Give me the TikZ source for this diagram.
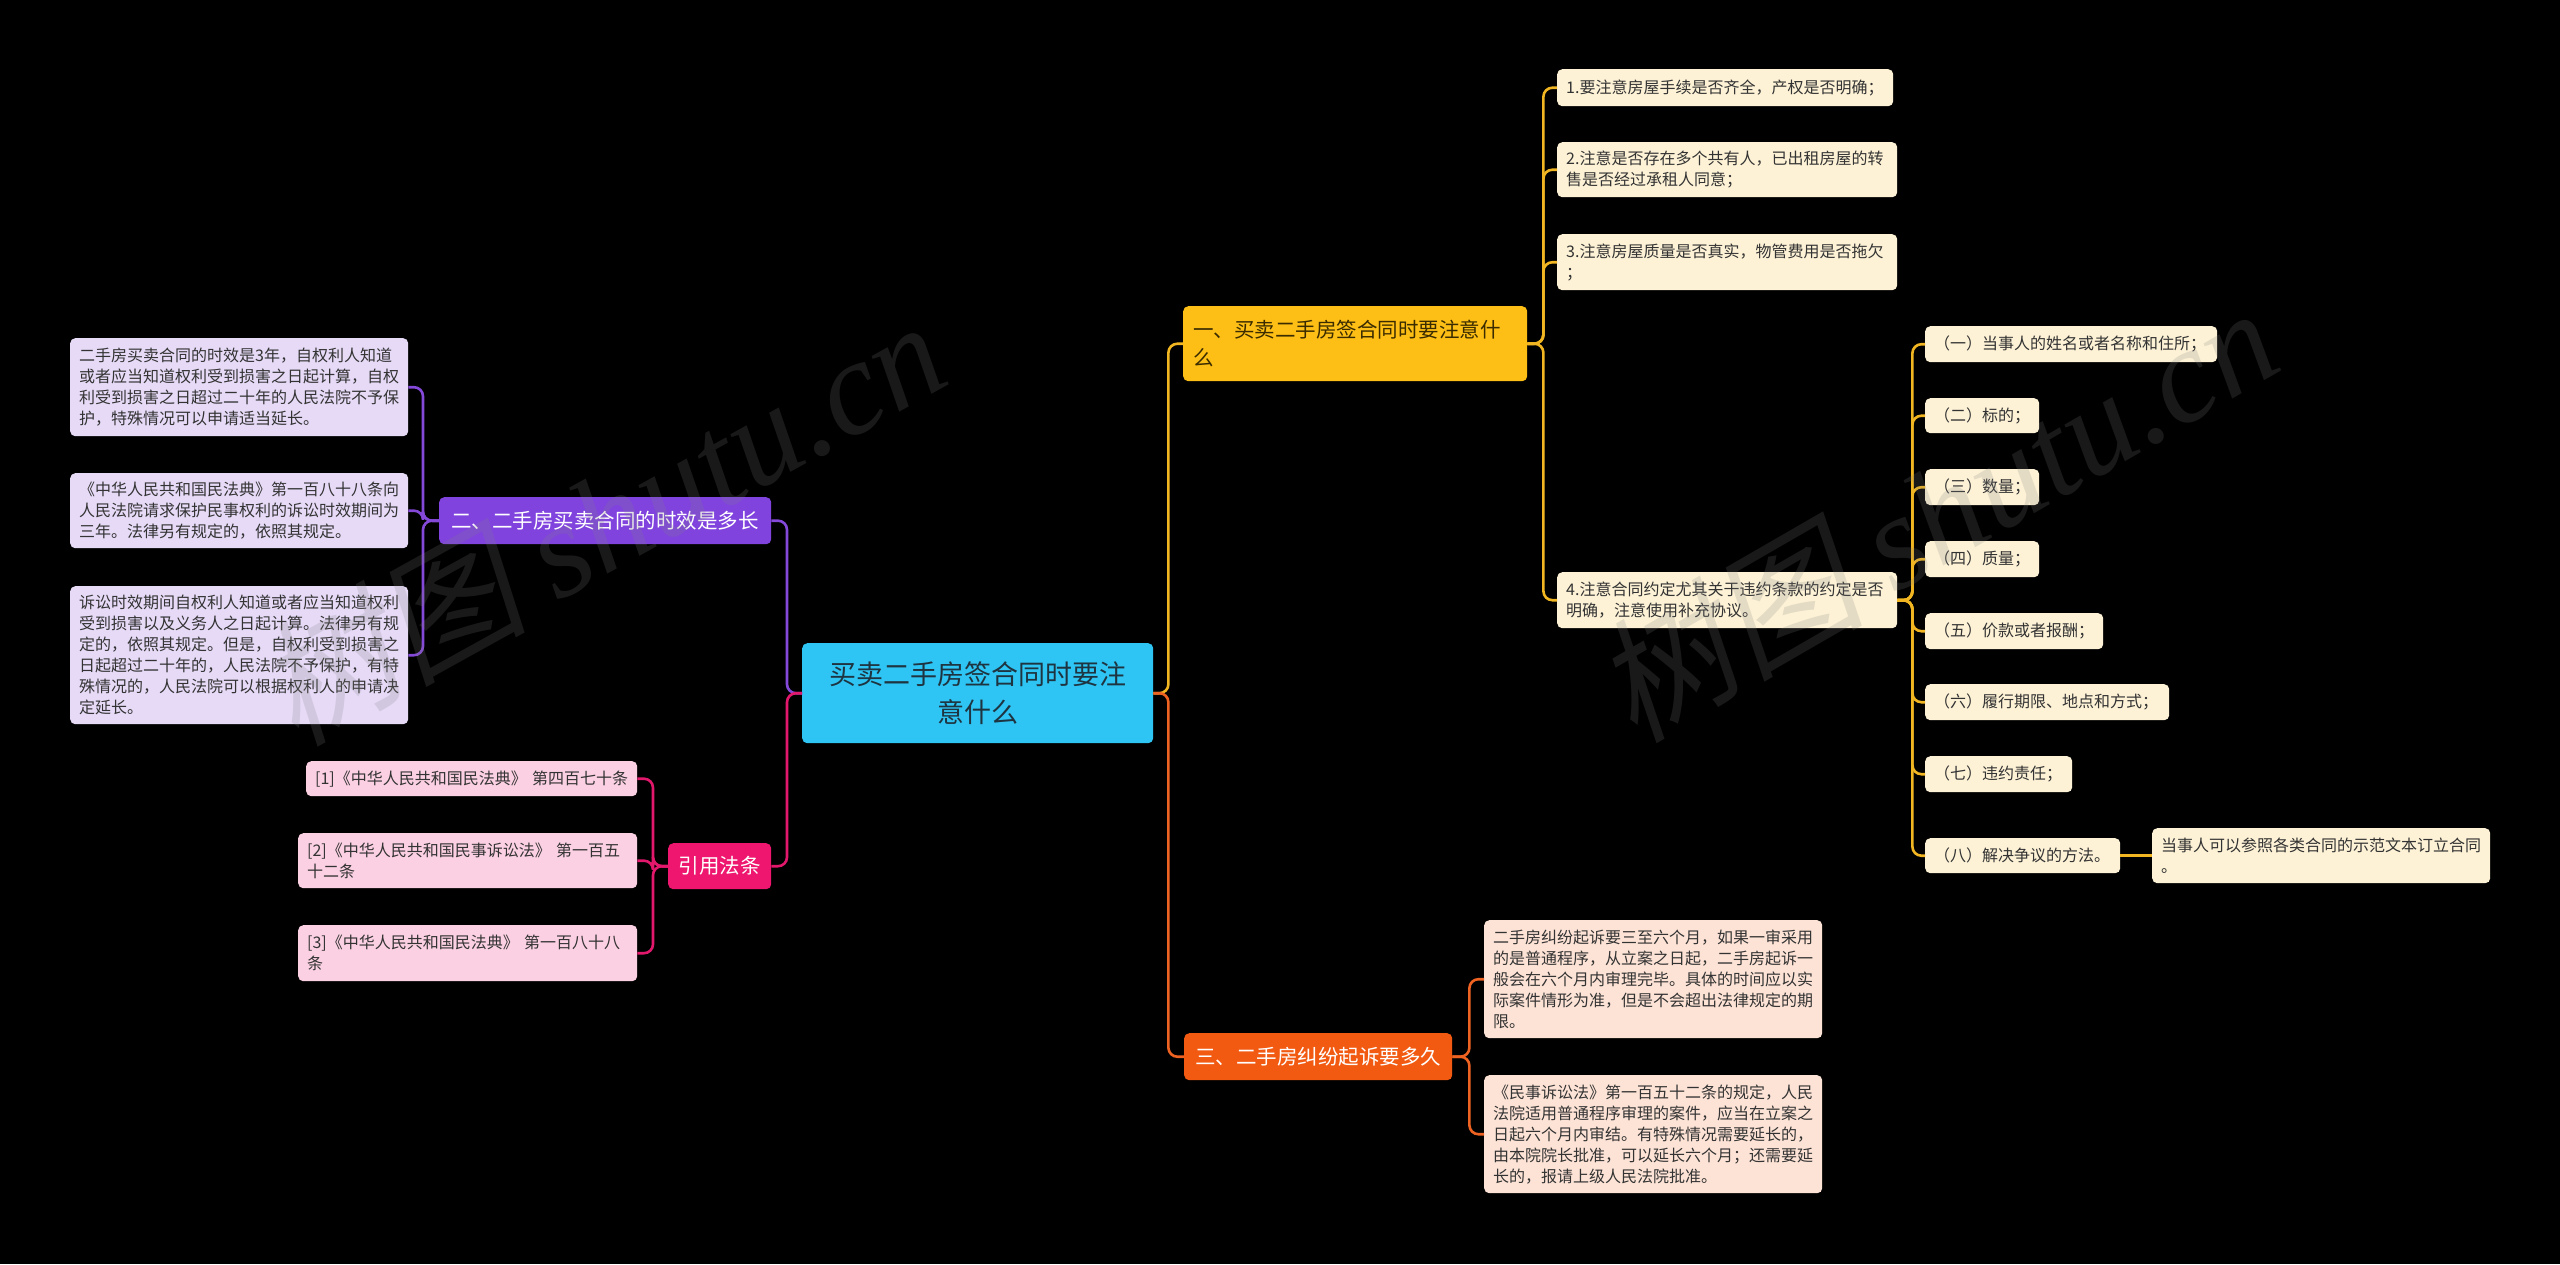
\documentclass[tikz,border=0pt]{standalone}
\usepackage{fontspec}
\setmainfont{Noto Sans CJK SC}
\newfontfamily\wmcjk[FakeSlant=0.2]{Noto Sans CJK SC}
\newfontfamily\wmserif{Liberation Serif}
\definecolor{bgc}{HTML}{000000}
\definecolor{rootc}{HTML}{2EC4F3}
\definecolor{roott}{HTML}{1E3440}
\definecolor{yelc}{HTML}{FDBE15}
\definecolor{yelt}{HTML}{3A2C00}
\definecolor{yell}{HTML}{F2B622}
\definecolor{creamc}{HTML}{FDF2D6}
\definecolor{purc}{HTML}{8043DE}
\definecolor{purl}{HTML}{8549D9}
\definecolor{lavc}{HTML}{E6DAF7}
\definecolor{orac}{HTML}{F25A12}
\definecolor{oral}{HTML}{EE6222}
\definecolor{peac}{HTML}{FDE3D6}
\definecolor{pinc}{HTML}{EE166E}
\definecolor{pinl}{HTML}{E2186C}
\definecolor{pinkc}{HTML}{FBD0E2}
\definecolor{leaft}{HTML}{333333}
\begin{document}
\begin{tikzpicture}[x=1pt,y=-1pt,
  box/.style={rounded corners=5pt, anchor=north west, inner ysep=0pt, inner xsep=9pt, align=left},
  leaffont/.style={font=\fontsize{16}{21}\selectfont, text=leaft},
  yleaf/.style={box, leaffont, fill=creamc},
  pleaf/.style={box, leaffont, fill=lavc},
  oleaf/.style={box, leaffont, fill=peac},
  kleaf/.style={box, leaffont, fill=pinkc},
  brfont/.style={font=\fontsize{20.5}{28}\selectfont},
  conn/.style={line width=2.6pt, rounded corners=9pt},
  wm/.style={text=gray, opacity=0.2, font=\fontsize{135}{135}\selectfont}
]
\fill[bgc] (0,0) rectangle (2560,1264);
\useasboundingbox (0,0) rectangle (2560,1264);

% root
\node[box, align=center, fill=rootc, text=roott, font=\fontsize{27}{38}\selectfont,
  minimum width=351pt, minimum height=100pt, text width=333pt] (root) at (802,643)
  {买卖二手房签合同时要注\\意什么};

% branches
\node[box, brfont, fill=yelc, text=yelt, inner xsep=10pt, text width=324pt, minimum height=75pt] (b1) at (1183,306)
  {一、买卖二手房签合同时要注意什\\么};
\node[box, brfont, align=center, fill=purc, text=white, text width=314pt, minimum height=47pt] (b2) at (439,497)
  {二、二手房买卖合同的时效是多长};
\node[box, brfont, align=center, fill=orac, text=white, text width=250pt, minimum height=47pt] (b3) at (1184,1033)
  {三、二手房纠纷起诉要多久};
\node[box, brfont, align=center, fill=pinc, text=white, text width=85pt, minimum height=46pt] (b4) at (668,843)
  {引用法条};

% branch 1 leaves
\node[yleaf, text width=318pt, minimum height=37pt] (l11) at (1557,69)
  {1.要注意房屋手续是否齐全，产权是否明确；};
\node[yleaf, text width=322pt, minimum height=55pt] (l12) at (1557,142)
  {2.注意是否存在多个共有人，已出租房屋的转\\售是否经过承租人同意；};
\node[yleaf, text width=322pt, minimum height=56pt] (l13) at (1557,234)
  {3.注意房屋质量是否真实，物管费用是否拖欠\\；};
\node[yleaf, text width=322pt, minimum height=56pt] (l14) at (1557,572)
  {4.注意合同约定尤其关于违约条款的约定是否\\明确，注意使用补充协议。};

\node[yleaf, text width=274pt, minimum height=36pt] (c1) at (1925,326) {（一）当事人的姓名或者名称和住所；};
\node[yleaf, text width=96pt, minimum height=35pt] (c2) at (1925,398) {（二）标的；};
\node[yleaf, text width=96pt, minimum height=36pt] (c3) at (1925,469) {（三）数量；};
\node[yleaf, text width=96pt, minimum height=36pt] (c4) at (1925,541) {（四）质量；};
\node[yleaf, text width=160pt, minimum height=36pt] (c5) at (1925,613) {（五）价款或者报酬；};
\node[yleaf, text width=226pt, minimum height=36pt] (c6) at (1925,684) {（六）履行期限、地点和方式；};
\node[yleaf, text width=129pt, minimum height=36pt] (c7) at (1925,756) {（七）违约责任；};
\node[yleaf, text width=177pt, minimum height=35pt] (c8) at (1925,838) {（八）解决争议的方法。};
\node[yleaf, text width=320pt, minimum height=55pt] (c81) at (2152,828)
  {当事人可以参照各类合同的示范文本订立合同\\。};

% branch 2 leaves
\node[pleaf, text width=320pt, minimum height=98pt] (l21) at (70,338)
  {二手房买卖合同的时效是3年，自权利人知道\\或者应当知道权利受到损害之日起计算，自权\\利受到损害之日超过二十年的人民法院不予保\\护，特殊情况可以申请适当延长。};
\node[pleaf, text width=320pt, minimum height=75pt] (l22) at (70,473)
  {《中华人民共和国民法典》第一百八十八条向\\人民法院请求保护民事权利的诉讼时效期间为\\三年。法律另有规定的，依照其规定。};
\node[pleaf, text width=320pt, minimum height=138pt] (l23) at (70,586)
  {诉讼时效期间自权利人知道或者应当知道权利\\受到损害以及义务人之日起计算。法律另有规\\定的，依照其规定。但是，自权利受到损害之\\日起超过二十年的，人民法院不予保护，有特\\殊情况的，人民法院可以根据权利人的申请决\\定延长。};

% branch 3 leaves
\node[oleaf, text width=320pt, minimum height=118pt] (l31) at (1484,920)
  {二手房纠纷起诉要三至六个月，如果一审采用\\的是普通程序，从立案之日起，二手房起诉一\\般会在六个月内审理完毕。具体的时间应以实\\际案件情形为准，但是不会超出法律规定的期\\限。};
\node[oleaf, text width=320pt, minimum height=118pt] (l32) at (1484,1075)
  {《民事诉讼法》第一百五十二条的规定，人民\\法院适用普通程序审理的案件，应当在立案之\\日起六个月内审结。有特殊情况需要延长的，\\由本院院长批准，可以延长六个月；还需要延\\长的，报请上级人民法院批准。};

% branch 4 leaves
\node[kleaf, text width=313pt, minimum height=35pt] (l41) at (306,761)
  {[1]《中华人民共和国民法典》~第四百七十条};
\node[kleaf, text width=321pt, minimum height=55pt] (l42) at (298,833)
  {[2]《中华人民共和国民事诉讼法》~第一百五\\十二条};
\node[kleaf, text width=321pt, minimum height=56pt] (l43) at (298,925)
  {[3]《中华人民共和国民法典》~第一百八十八\\条};

% connectors
\draw[conn, purl] (root.west) -- ++(-15,0) |- (b2.east);
\draw[conn, pinl] (root.west) -- ++(-15,0) |- (b4.east);
\draw[conn, yell] (root.east) -- ++(15,0) |- (b1.west);
\draw[conn, oral] (root.east) -- ++(15,0) |- (b3.west);

\foreach \n in {l11,l12,l13,l14}
  \draw[conn, yell] (b1.east) -- ++(16,0) |- (\n.west);
\foreach \n in {c1,c2,c3,c4,c5,c6,c7,c8}
  \draw[conn, yell] (l14.east) -- ++(15,0) |- (\n.west);
\draw[conn, yell] (c8.east) -- (c81.west);

\foreach \n in {l21,l22,l23}
  \draw[conn, purl] (b2.west) -- ++(-16,0) |- (\n.east);
\foreach \n in {l41,l42,l43}
  \draw[conn, pinl] (b4.west) -- ++(-15,0) |- (\n.east);
\foreach \n in {l31,l32}
  \draw[conn, oral] (b3.east) -- ++(17,0) |- (\n.west);

% watermarks
\node[wm, rotate=29] (wm1) at (600,520) {{\wmcjk 树图} {\wmserif\itshape shutu.cn}};
\node[wm, rotate=30] (wm2) at (1935,512) {{\wmcjk 树图} {\wmserif\itshape shutu.cn}};
\end{tikzpicture}
\end{document}
